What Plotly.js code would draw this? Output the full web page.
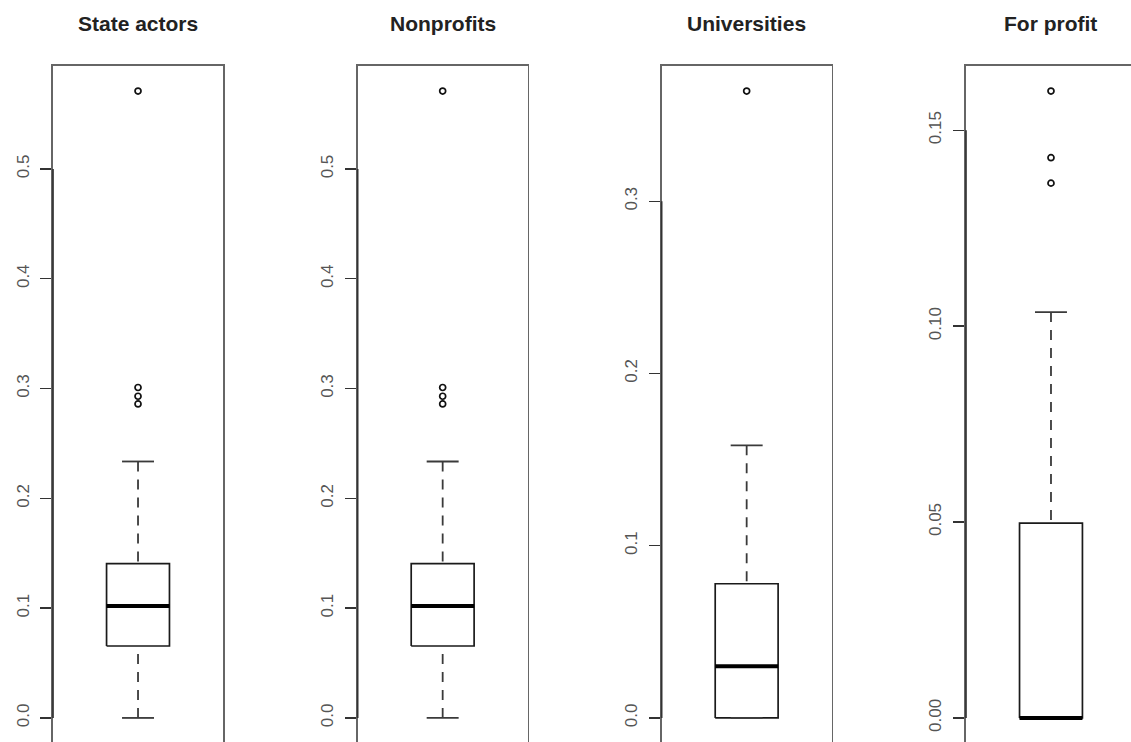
<!DOCTYPE html>
<html><head><meta charset="utf-8">
<script src="https://cdn.plot.ly/plotly-3.0.1.min.js"></script>
<style>html,body{margin:0;padding:0;overflow:hidden;background:#fff}#chart{width:1140px;height:760px}</style>
</head><body><div id="chart"></div><script>
// ---- data ----
const categories = ["State actors", "Nonprofits", "Universities", "For profit"];
const whiskerLow  = [0.0, 0.0, 0.0, 0.0];
const q1          = [0.0655, 0.0655, 0.0, 0.0];
const medians     = [0.102, 0.102, 0.030, 0.0];
const q3          = [0.1406, 0.1406, 0.0779, 0.0497];
const whiskerHigh = [0.2336, 0.2336, 0.1583, 0.1036];
const outliersStateActors  = [0.571, 0.301, 0.293, 0.286];
const outliersNonprofits   = [0.571, 0.301, 0.293, 0.286];
const outliersUniversities = [0.364];
const outliersForProfit    = [0.160, 0.143, 0.1365];
const outliers = [outliersStateActors, outliersNonprofits, outliersUniversities, outliersForProfit];
const tickValsA = [0, 0.1, 0.2, 0.3, 0.4, 0.5];
const tickTextA = ["0.0", "0.1", "0.2", "0.3", "0.4", "0.5"];
const tickValsU = [0, 0.1, 0.2, 0.3];
const tickTextU = ["0.0", "0.1", "0.2", "0.3"];
const tickValsF = [0, 0.05, 0.10, 0.15];
const tickTextF = ["0.00", "0.05", "0.10", "0.15"];
const tickVals = [tickValsA, tickValsA, tickValsU, tickValsF];
const tickText = [tickTextA, tickTextA, tickTextU, tickTextF];

// ---- layout / style ----
const HW = 0.185, CW = 0.094;
const domains = [[0, 0.157], [0.2813, 0.4383], [0.5620, 0.7190], [0.8430, 1.0]];
const font = "Liberation Sans, Arial, Helvetica, sans-serif";
const traces = [];
const layout = {
  width: 1140, height: 760,
  margin: {l: 53, r: 4, t: 66, b: 17},
  paper_bgcolor: "#fff", plot_bgcolor: "#fff",
  showlegend: false, hovermode: false,
  font: {family: font},
  annotations: [], shapes: []
};
categories.forEach((cat, i) => {
  const s = i === 0 ? "" : String(i + 1);
  const xa = "x" + s, ya = "y" + s;
  const base = {xaxis: xa, yaxis: ya, hoverinfo: "skip", showlegend: false};
  traces.push(Object.assign({type: "scatter", mode: "lines",
    x: [1 - HW, 1 + HW, 1 + HW, 1 - HW, 1 - HW],
    y: [q1[i], q1[i], q3[i], q3[i], q1[i]],
    line: {color: "#1a1a1a", width: 1.7}}, base));
  // whiskers
  traces.push(Object.assign({type: "scatter", mode: "lines",
    x: [1, 1], y: [whiskerHigh[i], q3[i]],
    line: {color: "#3a3a3a", width: 1.8, dash: "10px,8px"}}, base));
  traces.push(Object.assign({type: "scatter", mode: "lines",
    x: [1, 1], y: [whiskerLow[i], q1[i]],
    line: {color: "#3a3a3a", width: 1.8, dash: "10px,8px"}}, base));
  // staples
  traces.push(Object.assign({type: "scatter", mode: "lines",
    x: [1 - CW, 1 + CW], y: [whiskerHigh[i], whiskerHigh[i]],
    line: {color: "#3a3a3a", width: 1.8}}, base));
  traces.push(Object.assign({type: "scatter", mode: "lines",
    x: [1 - CW, 1 + CW], y: [whiskerLow[i], whiskerLow[i]],
    line: {color: "#3a3a3a", width: 1.8}}, base));
  // median
  traces.push(Object.assign({type: "scatter", mode: "lines",
    x: [1 - HW, 1 + HW], y: [medians[i], medians[i]],
    line: {color: "#000", width: 4}}, base));
  // outliers
  traces.push(Object.assign({type: "scatter", mode: "markers",
    x: outliers[i].map(() => 1), y: outliers[i],
    marker: {symbol: "circle-open", size: 6, color: "#111", line: {width: 1.7, color: "#111"}}}, base));

  const all = [whiskerLow[i], whiskerHigh[i], q1[i], q3[i]].concat(outliers[i]);
  const lo = Math.min.apply(null, all), hi = Math.max.apply(null, all);
  const pad = 0.04 * (hi - lo);
  layout["xaxis" + s] = {domain: domains[i], range: [0.5, 1.5], anchor: ya,
    showgrid: false, zeroline: false, showticklabels: false, ticks: "",
    showline: true, mirror: true, linecolor: "#666", linewidth: 1.7, fixedrange: true};
  layout["yaxis" + s] = {domain: [0, 1], range: [lo - pad, hi + pad], anchor: xa,
    showgrid: false, zeroline: false, tickmode: "array", tickvals: tickVals[i], ticktext: tickText[i],
    ticks: "outside", ticklen: 11, tickwidth: 1.4, tickcolor: "#333",
    ticklabelstandoff: 5,
    tickangle: -90, tickfont: {size: 17, color: "#555", family: font},
    showline: true, mirror: true, linecolor: "#666", linewidth: 1.7, fixedrange: true};
  layout.shapes.push({type: "line", xref: xa + " domain", yref: ya,
    x0: 0, x1: 0, y0: tickVals[i][0], y1: tickVals[i][tickVals[i].length - 1],
    line: {color: "#333", width: 1.7}});
  layout.annotations.push({text: "<b>" + cat + "</b>", xref: "paper", yref: "paper",
    x: (domains[i][0] + domains[i][1]) / 2, y: 1 + 43 / 677, xanchor: "center", yanchor: "middle",
    showarrow: false, font: {size: 21, color: "#222", family: font}});
});
Plotly.newPlot("chart", traces, layout, {staticPlot: true, displayModeBar: false});
</script></body></html>
